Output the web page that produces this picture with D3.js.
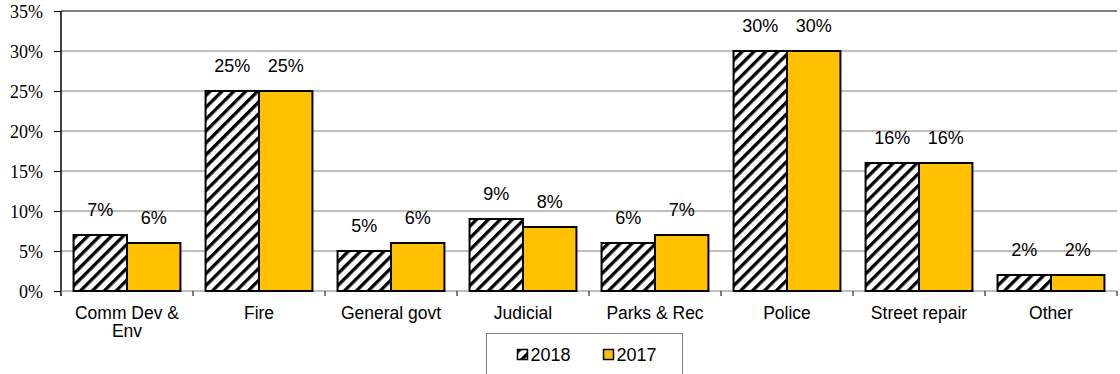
<!DOCTYPE html>
<html>
<head>
<meta charset="utf-8">
<script src="https://cdn.jsdelivr.net/npm/d3@7"></script>
<style>
  html, body { margin: 0; padding: 0; background: #fff; }
  svg { display: block; }
</style>
</head>
<body>
<div id="chart"></div>
<script>
// data
const categories = ['Comm Dev & Env', 'Fire', 'General govt', 'Judicial', 'Parks & Rec', 'Police', 'Street repair', 'Other'];
const series = ['2018', '2017'];
const values2018 = [7, 25, 5, 9, 6, 30, 16, 2];
const values2017 = [6, 25, 6, 8, 7, 30, 16, 2];
const yTicks = [0, 5, 10, 15, 20, 25, 30, 35];

// size options
const width = 1120, height = 374;
const margin = { top: 11, right: 3, bottom: 83, left: 61 };
const innerW = width - margin.left - margin.right;
const innerH = height - margin.top - margin.bottom;
const yellow = '#FFC000';
const sans = '"Liberation Sans", Arial, sans-serif';

const svg = d3.select('#chart').append('svg')
  .attr('width', width)
  .attr('height', height);

// hatch pattern for 2018
const defs = svg.append('defs');
defs.append('pattern')
  .attr('id', 'hatch')
  .attr('patternUnits', 'userSpaceOnUse')
  .attr('width', 8.4)
  .attr('height', 8.4)
  .attr('patternTransform', 'rotate(45)')
  .call(p => {
    p.append('rect').attr('width', 8.4).attr('height', 8.4).attr('fill', '#fff');
    p.append('rect').attr('x', 0).attr('width', 3.3).attr('height', 8.4).attr('fill', '#000');
  });

const g = svg.append('g').attr('transform', `translate(${margin.left},${margin.top})`);

const x = d3.scaleBand().domain(categories).range([0, innerW]).paddingInner(0).paddingOuter(0);
const x1 = d3.scaleBand().domain(series).range([0, x.bandwidth()]).paddingOuter(0.235);
const y = d3.scaleLinear().domain([0, 35]).range([innerH, 0]);

// gridlines
g.append('g').selectAll('line')
  .data(yTicks.filter(d => d > 0))
  .enter().append('line')
  .attr('x1', 0).attr('x2', innerW)
  .attr('y1', d => y(d)).attr('y2', d => y(d))
  .attr('stroke', '#808080')
  .attr('stroke-width', d => d === 35 ? 2 : 1);

// y axis
const yAxis = g.append('g')
  .call(d3.axisLeft(y).tickValues(yTicks).tickFormat(d => d + '%').tickSize(7).tickSizeOuter(0));
yAxis.select('.domain').attr('stroke', '#000').attr('stroke-width', 1.5)
  .attr('d', `M0,0V${innerH + 5}`);
yAxis.selectAll('.tick line').attr('stroke', '#000');
yAxis.selectAll('.tick text')
  .attr('x', -18)
  .attr('dy', '0.34em')
  .style('font-family', '"Liberation Serif", "Times New Roman", serif')
  .style('font-size', '18px')
  .attr('fill', '#000');

// x axis baseline
g.append('line')
  .attr('x1', 0).attr('x2', innerW)
  .attr('y1', innerH).attr('y2', innerH)
  .attr('stroke', '#808080');

// tick marks at band boundaries
g.append('g').selectAll('line')
  .data(categories)
  .enter().append('line')
  .attr('x1', d => x(d) + x.bandwidth())
  .attr('x2', d => x(d) + x.bandwidth())
  .attr('y1', innerH).attr('y2', innerH + 5)
  .attr('stroke', '#000');

// category labels
const catLabels = g.append('g').selectAll('text')
  .data(categories)
  .enter().append('text')
  .attr('text-anchor', 'middle')
  .attr('transform', d => `translate(${x(d) + x.bandwidth() / 2},${innerH + 28})`)
  .style('font-family', sans)
  .style('font-size', '17.5px')
  .attr('fill', '#000');
catLabels.each(function (d) {
  const lines = d === 'Comm Dev & Env' ? ['Comm Dev &', 'Env'] : [d];
  d3.select(this).selectAll('tspan').data(lines).enter().append('tspan')
    .attr('x', 0).attr('dy', (l, i) => i === 0 ? 0 : 18).text(l => l);
});

// bars
const rows = categories.map((c, i) => ({ cat: c, vals: [
  { s: '2018', v: values2018[i] },
  { s: '2017', v: values2017[i] }
] }));

const groups = g.append('g').selectAll('g')
  .data(rows)
  .enter().append('g')
  .attr('transform', d => `translate(${x(d.cat)},0)`);

groups.selectAll('rect')
  .data(d => d.vals)
  .enter().append('rect')
  .attr('x', d => x1(d.s))
  .attr('y', d => y(d.v))
  .attr('width', x1.bandwidth())
  .attr('height', d => innerH - y(d.v))
  .attr('fill', d => d.s === '2018' ? 'url(#hatch)' : yellow)
  .attr('stroke', '#000')
  .attr('stroke-width', 2);

// value labels
groups.selectAll('text')
  .data(d => d.vals)
  .enter().append('text')
  .attr('x', d => x1(d.s) + x1.bandwidth() / 2)
  .attr('y', d => y(d.v) - 19)
  .attr('text-anchor', 'middle')
  .style('font-family', sans)
  .style('font-size', '18px')
  .attr('fill', '#000')
  .text(d => d.v + '%');

// legend
const legend = svg.append('g').attr('transform', 'translate(486.5,333.5)');
legend.append('rect')
  .attr('width', 196).attr('height', 50)
  .attr('fill', '#fff').attr('stroke', '#808080');
const items = legend.selectAll('g.item')
  .data(series)
  .enter().append('g')
  .attr('class', 'item')
  .attr('transform', (d, i) => `translate(${31 + i * 86},16)`);
items.append('rect')
  .attr('width', 10).attr('height', 10)
  .attr('fill', d => d === '2018' ? 'url(#hatch)' : yellow)
  .attr('stroke', '#000').attr('stroke-width', 1.5);
items.append('text')
  .attr('x', 13).attr('y', 11)
  .style('font-family', sans)
  .style('font-size', '18px')
  .attr('fill', '#000')
  .text(d => d);
</script>
</body>
</html>
